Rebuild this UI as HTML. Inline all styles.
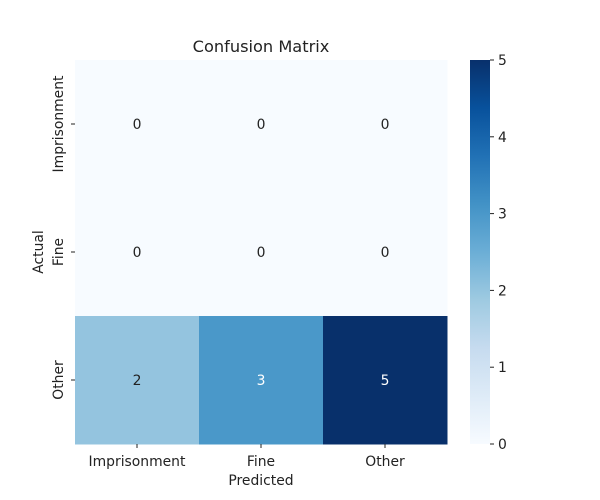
<!DOCTYPE html>
<html><head><meta charset="utf-8"><style>body{margin:0;background:#fff}svg{display:block}text{font-family:"DejaVu Sans","Liberation Sans",sans-serif;font-size:13.9px;fill:#222}</style></head>
<body><svg id="c" width="600" height="500">
<defs><linearGradient id="g" x1="0" y1="1" x2="0" y2="0">
<stop offset="0" stop-color="#f7fbff"/><stop offset="0.125" stop-color="#deebf7"/><stop offset="0.25" stop-color="#c6dbef"/><stop offset="0.375" stop-color="#9ecae1"/><stop offset="0.5" stop-color="#6baed6"/><stop offset="0.625" stop-color="#4292c6"/><stop offset="0.75" stop-color="#2171b5"/><stop offset="0.875" stop-color="#08519c"/><stop offset="1" stop-color="#08306b"/></linearGradient></defs>
</svg>
<script>
const rowLabels=["Imprisonment","Fine","Other"];
const colLabels=["Imprisonment","Fine","Other"];
const values=[[0,0,0],[0,0,0],[2,3,5]];
const cbTicks=[0,1,2,3,4,5];
const vmax=5;
const svg=document.getElementById('c');const NS="http://www.w3.org/2000/svg";
function el(t,a,txt){const e=document.createElementNS(NS,t);for(const k in a)e.setAttribute(k,a[k]);if(txt!==undefined)e.textContent=txt;svg.appendChild(e);return e;}
const X0=75,X1=447,Y0=60,Y1=444;const cw=(X1-X0)/colLabels.length,ch=(Y1-Y0)/rowLabels.length;
const stops=[[247,251,255],[222,235,247],[198,219,239],[158,202,225],[107,174,214],[66,146,198],[33,113,181],[8,81,156],[8,48,107]];
function color(v){let t=Math.max(0,Math.min(1,v/vmax))*8;let i=Math.min(7,Math.floor(t)),f=t-i;const a=stops[i],b=stops[i+1];return `rgb(${a.map((x,k)=>Math.round(x+(b[k]-x)*f)).join(',')})`;}
const xs=j=>X0+j*cw, ys=i=>Y0+i*ch;
let t=el('text',{x:261,y:52,'text-anchor':'middle',style:'font-size:16.2px'},'Confusion Matrix');

values.forEach((row,i)=>row.forEach((v,j)=>{
 const r=el('rect',{x:xs(j),y:ys(i),width:cw+0.5,height:ch+0.5,fill:color(v)});
 
 const tx=el('text',{x:xs(j)+cw/2,y:ys(i)+ch/2+5,'text-anchor':'middle',style:'fill:'+(v/vmax>0.5?'#fff':'#222')},String(v));
 
}));
colLabels.forEach((l,j)=>{const cx=xs(j)+cw/2;el('line',{x1:cx,x2:cx,y1:Y1,y2:Y1+4,stroke:'#222'});
 const tx=el('text',{x:cx,y:Y1+22,'text-anchor':'middle'},l);});
rowLabels.forEach((l,i)=>{const cy=ys(i)+ch/2;el('line',{x1:X0-4,x2:X0,y1:cy,y2:cy,stroke:'#222'});
 const tx=el('text',{x:0,y:0,'text-anchor':'middle',transform:`translate(63,${cy}) rotate(-90)`},l);});
t=el('text',{x:261,y:485,'text-anchor':'middle'},'Predicted');
t=el('text',{x:0,y:0,'text-anchor':'middle',transform:'translate(43,252) rotate(-90)'},'Actual');
const cb=el('rect',{x:470,y:Y0,width:20,height:Y1-Y0,fill:'url(#g)'});
cbTicks.forEach(v=>{const y=Y1-(v/vmax)*(Y1-Y0);el('line',{x1:490,x2:494,y1:y,y2:y,stroke:'#222'});
 const tx=el('text',{x:498,y:y+5},String(v));});
</script></body></html>
